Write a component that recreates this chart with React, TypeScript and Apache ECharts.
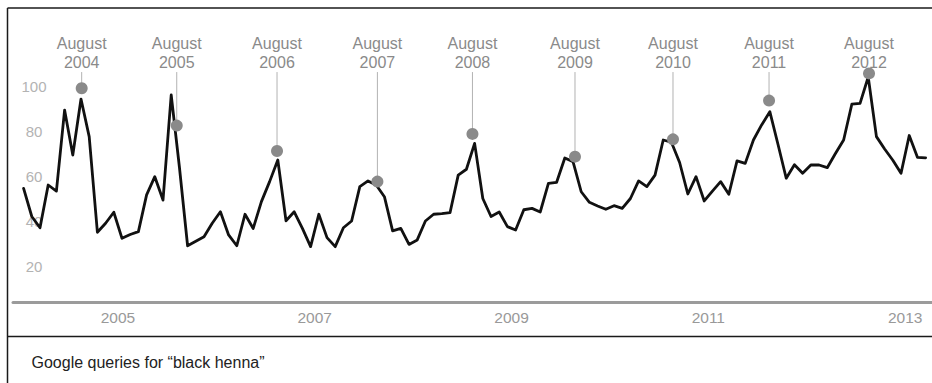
import React, { useEffect, useRef } from "react";
import * as echarts from "echarts";

// Monthly Google search interest for "black henna"
const values2004 = [54.5, 42, 37, 56, 53.3, 89.3, 69.3, 94.2, 77.5, 35, 39, 43.9];
const values2005 = [32.3, 34, 35.3, 51.6, 59.7, 49.3, 96, 64, 29, 31, 33, 39];
const values2006 = [44.1, 33.8, 29, 43, 36.7, 48.6, 57.5, 67.1, 40.1, 44.1, 36.7, 28.6];
const values2007 = [43, 32.6, 28.6, 37, 40, 55.3, 57.8, 56, 50.8, 35.6, 36.7, 29.6];
const values2008 = [31.6, 40, 43, 43.3, 43.7, 60.4, 63, 74.5, 50, 42, 44, 37.5];
const values2009 = [36, 45, 45.6, 44, 56.7, 57.2, 68, 66.4, 53, 48.3, 46.7, 45.2];
const values2010 = [46.8, 45.6, 50, 57.8, 55.3, 60.4, 76, 75, 66, 52, 59.7, 48.9];
const values2011 = [53.3, 57.5, 51.9, 66.7, 65.6, 76, 82.7, 88.6, 74, 59, 65, 61.2];
const values2012 = [64.9, 64.9, 63.7, 70, 76, 91.9, 92.3, 104, 77.5, 72, 67, 61.2];
const values2013 = [78, 68.3, 68.1];
const startYear = 2004;

// August annotations
const annotationYears = [2004, 2005, 2006, 2007, 2008, 2009, 2010, 2011, 2012];
const annotationDates = [2004.632, 2005.598, 2006.617, 2007.637, 2008.603, 2009.645, 2010.641, 2011.617, 2012.633];
const annotationValues = [99, 82.4, 71.1, 57.5, 78.7, 68.6, 76.3, 93.5, 105.6];
const annotationLabelLevel = 106.2;

// Axis ticks
const xTickYears = [2005, 2007, 2009, 2011, 2013];
const yTickLabels = [20, 40, 60, 80, 100];

const caption = "Google queries for \u201cblack henna\u201d";
const FONT = '"Liberation Sans", Arial, Helvetica, sans-serif';

export default function App() {
  const ref = useRef<HTMLDivElement>(null);

  useEffect(() => {
    if (!ref.current) return;
    const chart = echarts.init(ref.current, null, { renderer: "svg" });
    const allValues = [
      ...values2004, ...values2005, ...values2006, ...values2007, ...values2008,
      ...values2009, ...values2010, ...values2011, ...values2012, ...values2013,
    ];
    const lineData = allValues.map((v, i) => [startYear + (i + 0.5) / 12, v]);
    const annData = annotationDates.map((d, i) => [d, annotationValues[i]]);

    chart.setOption({
      animation: false,
      backgroundColor: "#ffffff",
      grid: { left: 13, right: 0, top: 41, bottom: 72, containLabel: false },
      xAxis: {
        type: "value",
        min: 2003.934,
        max: 2013.273,
        offset: -9,
        axisLine: { show: true, lineStyle: { color: "#9b9b9b", width: 3 } },
        axisTick: { show: false },
        splitLine: { show: false },
        axisLabel: {
          customValues: xTickYears,
          formatter: (v: number) => String(Math.round(v)),
          color: "#999999",
          fontSize: 15.5,
          fontFamily: FONT,
          margin: 7,
        },
      },
      yAxis: {
        type: "value",
        min: 0,
        max: 120,
        interval: 20,
        axisLine: { show: false },
        axisTick: { show: false },
        splitLine: { show: false },
        axisLabel: {
          inside: true,
          align: "center",
          margin: 21,
          formatter: (v: number) => (yTickLabels.includes(v) ? String(v) : ""),
          color: "#b3b3b3",
          fontSize: 15,
          fontFamily: FONT,
        },
      },
      series: [
        {
          type: "line",
          data: lineData,
          symbol: "none",
          showSymbol: false,
          lineStyle: { color: "#111111", width: 2.8, join: "round", cap: "round" },
          z: 2,
        },
        {
          type: "custom",
          data: annData,
          z: 3,
          clip: false,
          renderItem: (params: any, api: any) => {
            const x = api.value(0);
            const v = api.value(1);
            const p = api.coord([x, v]);
            const top = api.coord([x, annotationLabelLevel])[1];
            return {
              type: "group",
              children: [
                {
                  type: "line",
                  shape: { x1: p[0], y1: top, x2: p[0], y2: p[1] },
                  style: { stroke: "#b2b2b2", lineWidth: 1 },
                },
                {
                  type: "text",
                  x: p[0],
                  y: top - 0.5,
                  style: {
                    text: "August\n" + annotationYears[params.dataIndex],
                    align: "center",
                    verticalAlign: "bottom",
                    fontSize: 16,
                    fontFamily: FONT,
                    lineHeight: 19,
                    fill: "#8a8a8a",
                  },
                },
                {
                  type: "circle",
                  shape: { cx: p[0], cy: p[1], r: 6 },
                  style: { fill: "#8a8a8a" },
                },
              ],
            };
          },
        },
      ],
      graphic: [
        {
          type: "line",
          shape: { x1: 7.5, y1: 8, x2: 932, y2: 8 },
          style: { stroke: "#1a1a1a", lineWidth: 1.5 },
        },
        {
          type: "line",
          shape: { x1: 7.5, y1: 8, x2: 7.5, y2: 383 },
          style: { stroke: "#1a1a1a", lineWidth: 1.5 },
        },
        {
          type: "line",
          shape: { x1: 7.5, y1: 336.5, x2: 932, y2: 336.5 },
          style: { stroke: "#1a1a1a", lineWidth: 1.5 },
        },
        {
          type: "text",
          x: 31.5,
          y: 362,
          style: {
            text: caption,
            fontSize: 16,
            fontFamily: FONT,
            fill: "#222222",
            verticalAlign: "middle",
            align: "left",
          },
        },
      ],
    });

    return () => chart.dispose();
  }, []);

  return (
    <div
      ref={ref}
      style={{ position: "absolute", left: 0, top: 0, width: 932, height: 383, background: "#fff" }}
    />
  );
}
